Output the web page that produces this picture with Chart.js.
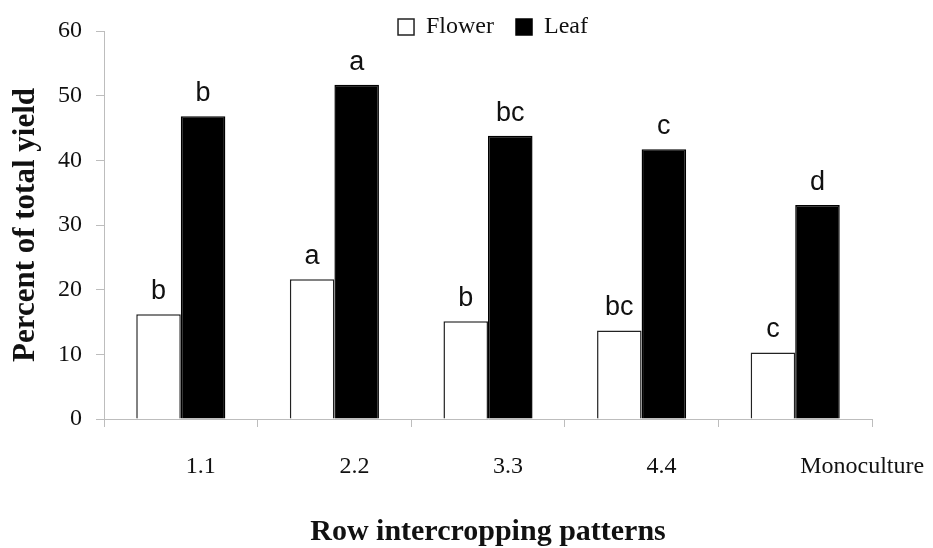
<!DOCTYPE html>
<html>
<head>
<meta charset="utf-8">
<script src="https://cdn.jsdelivr.net/npm/chart.js@4.4.1/dist/chart.umd.min.js"></script>
<style>
  html, body { margin: 0; padding: 0; background: #ffffff; }
  #wrap { width: 933px; height: 548px; }
</style>
</head>
<body>
<div id="wrap"><canvas id="c" width="933" height="548"></canvas></div>
<script>
// ---- data ----
const categories = ["1.1", "2.2", "3.3", "4.4", "Monoculture"];
const flowerValues = [16.2, 21.6, 15.1, 13.7, 10.3];
const leafValues = [46.8, 51.7, 43.8, 41.7, 33.1];
const flowerLetters = ["b", "a", "b", "bc", "c"];
const leafLetters = ["b", "a", "bc", "c", "d"];
const yTicks = [0, 10, 20, 30, 40, 50, 60];

const AXIS_GREY = '#bdbdbd';
const SERIF = "'Liberation Serif', 'Times New Roman', serif";
const SANS = "'Liberation Sans', Arial, sans-serif";

const legendHeightPlugin = {
  id: 'legendHeight',
  afterInit(chart) {
    const lg = chart.legend;
    if (!lg) return;
    const orig = lg.fit;
    lg.fit = function () { orig.call(this); this.height = 38; };
  },
  afterLayout(chart) {
    const lg = chart.legend;
    if (!lg) return;
    // let the legend overlap the plot top without being clipped
    lg.bottom = lg.top + 60;
    lg.left = lg.left + 5;
    lg.right = lg.right + 5;
    if (lg.legendHitBoxes) lg.legendHitBoxes.forEach(h => { h.left += 5; });
  }
};

const letterPlugin = {
  id: 'letters',
  afterDatasetsDraw(chart) {
    const ctx = chart.ctx;
    ctx.save();
    ctx.font = "27px " + SANS;
    ctx.fillStyle = '#111';
    ctx.textAlign = 'center';
    ctx.textBaseline = 'alphabetic';
    const sets = [flowerLetters, leafLetters];
    chart.data.datasets.forEach((ds, di) => {
      const meta = chart.getDatasetMeta(di);
      meta.data.forEach((bar, i) => {
        ctx.fillText(sets[di][i], bar.x, bar.y - 15);
      });
    });
    ctx.restore();
  }
};

new Chart(document.getElementById('c'), {
  type: 'bar',
  data: {
    labels: categories,
    datasets: [
      {
        label: 'Flower',
        data: flowerValues,
        backgroundColor: '#ffffff',
        borderColor: '#222222',
        borderWidth: 1.5,
        barPercentage: 1.0,
        categoryPercentage: 0.58
      },
      {
        label: 'Leaf',
        data: leafValues,
        backgroundColor: '#000000',
        borderColor: '#000000',
        borderWidth: 1.5,
        barPercentage: 1.0,
        categoryPercentage: 0.58
      }
    ]
  },
  options: {
    responsive: false,
    animation: false,
    devicePixelRatio: 1,
    layout: { padding: { top: -7, left: 0, right: 61, bottom: 0 } },
    plugins: {
      tooltip: { enabled: false },
      legend: {
        display: true,
        position: 'top',
        fullSize: false,
        align: 'center',
        labels: {
          font: { family: SERIF, size: 24 },
          color: '#111',
          boxWidth: 16,
          boxHeight: 16,
          padding: 22
        }
      }
    },
    scales: {
      x: {
        offset: true,
        grid: {
          display: true,
          drawOnChartArea: false,
          drawTicks: true,
          tickLength: 8,
          color: AXIS_GREY,
          offset: true
        },
        border: { display: true, color: AXIS_GREY, width: 1 },
        ticks: {
          font: { family: SERIF, size: 24 },
          color: '#111',
          autoSkip: false,
          maxRotation: 0,
          minRotation: 0,
          align: 'start',
          labelOffset: 5,
          padding: 25
        },
        title: {
          display: true,
          text: 'Row intercropping patterns',
          font: { family: SERIF, size: 30, weight: 'bold' },
          color: '#111',
          padding: { top: 0, bottom: -2 }
        },
        afterFit(scale) {
          scale.height = 129;
          scale.paddingLeft = 0;
          scale.paddingRight = 0;
        }
      },
      y: {
        min: 0,
        max: 60,
        afterBuildTicks(scale) { scale.ticks = yTicks.map(v => ({ value: v })); },
        grid: {
          display: true,
          drawOnChartArea: false,
          drawTicks: true,
          tickLength: 8,
          color: AXIS_GREY
        },
        border: { display: true, color: AXIS_GREY, width: 1 },
        ticks: {
          font: { family: SERIF, size: 24 },
          color: '#111',
          padding: 14
        },
        title: {
          display: true,
          text: 'Percent of total yield',
          font: { family: SERIF, size: 31, weight: 'bold' },
          color: '#111',
          padding: { top: 7, bottom: 0 }
        },
        afterFit(scale) { scale.width = 104; }
      }
    }
  },
  plugins: [legendHeightPlugin, letterPlugin]
});
</script>
</body>
</html>
